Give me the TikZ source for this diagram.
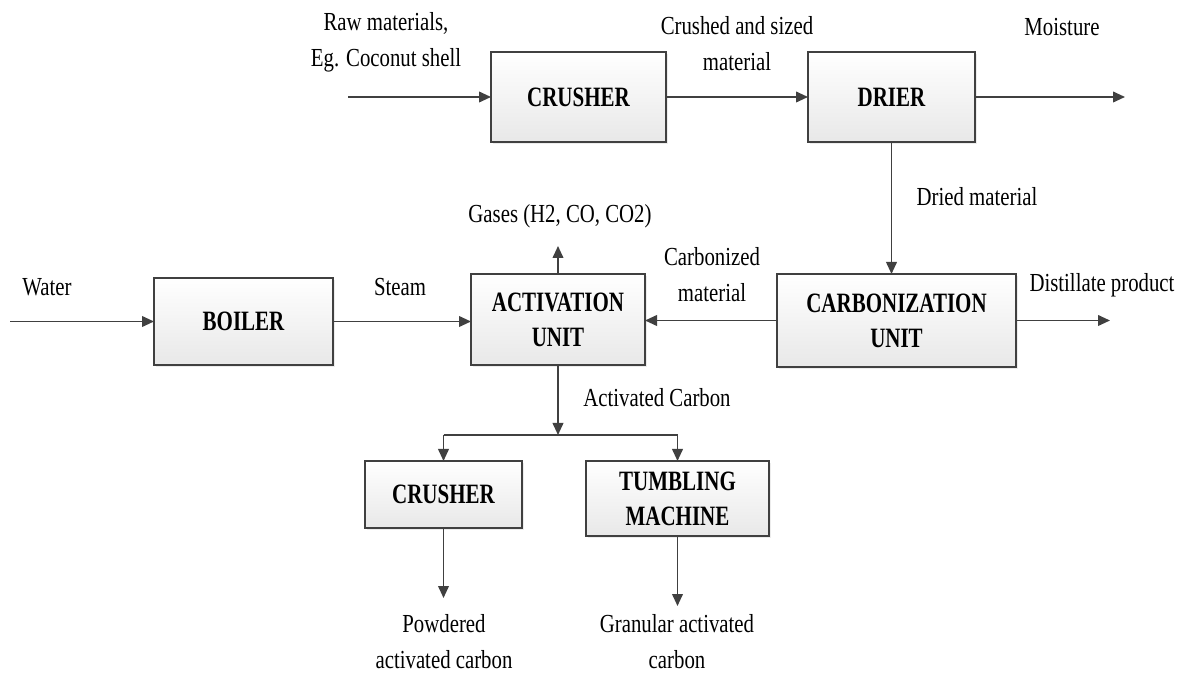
\documentclass[tikz,border=0pt]{standalone}
\usepackage{fontspec}
\setmainfont{Liberation Serif}[FakeStretch=0.8]
\newfontfamily\boxfont{Liberation Serif}[FakeStretch=0.75]
\usetikzlibrary{arrows.meta,shadows}
\definecolor{linec}{HTML}{404040}
\tikzset{
  box/.style={draw=linec, line width=1.3pt, top color=white, bottom color=black!9,
    inner sep=0pt, outer sep=0pt, align=center,
    font=\boxfont\bfseries\fontsize{21pt}{26.25pt}\selectfont,
    drop shadow={opacity=0.15, shadow xshift=1.8pt, shadow yshift=-1.8pt}},
  lbl/.style={inner sep=0pt, align=center, font=\fontsize{19.5pt}{27pt}\selectfont},
  flow/.style={draw=linec, line width=1.3pt, -{Triangle[length=9pt,width=8pt]}},
  plain/.style={draw=linec, line width=1.3pt}
}
\begin{document}
\begin{tikzpicture}[x=0.75pt,y=-0.75pt]
\path[use as bounding box, fill=white] (0,0) rectangle (1189,673);
% boxes
\node[box, minimum width=131.25pt, minimum height=67.5pt] (crusherA) at (578.5,97) {CRUSHER};
\node[box, minimum width=125.25pt, minimum height=67.5pt] (drier) at (891.5,97) {DRIER};
\node[box, minimum width=134.25pt, minimum height=65.25pt] (boiler) at (243.5,321.5) {BOILER};
\node[box, minimum width=130.5pt, minimum height=68.25pt] (activ) at (558,319.5) {ACTIVATION\\UNIT};
\node[box, minimum width=179.25pt, minimum height=69.75pt] (carbon) at (896.5,320.5) {CARBONIZATION\\UNIT};
\node[box, minimum width=117.75pt, minimum height=50.25pt] (crusherB) at (443.5,494.5) {CRUSHER};
\node[box, minimum width=137.25pt, minimum height=56.25pt] (tumble) at (677.5,498.5) {TUMBLING\\MACHINE};
% labels
\node[lbl] (raw) at (386,42.5) {Raw materials,\\Eg. Coconut shell};
\node[lbl] (crushed) at (737,43.5) {Crushed and sized\\material};
\node[lbl] (moist) at (1062,27) {Moisture};
\node[lbl] (dried) at (977,197) {Dried material};
\node[lbl] (gases) at (560,216) {Gases (H2, CO, CO2)};
\node[lbl] (carbd) at (712,274.5) {Carbonized\\material};
\node[lbl] (steam) at (400,287) {Steam};
\node[lbl] (water) at (47,287) {Water};
\node[lbl] (distil) at (1102,285) {Distillate product};
\node[lbl] (actc) at (657,398) {Activated Carbon};
\node[lbl] (powd) at (444,641.5) {Powdered\\activated carbon};
\node[lbl] (gran) at (677,642) {Granular activated\\carbon};
% free ends
\coordinate (rawin) at (348,97);
\coordinate (moistout) at (1125,97);
\coordinate (waterin) at (10,321.5);
\coordinate (distout) at (1110,320.5);
\coordinate (gasout) at (558,246);
\coordinate (split) at (558,435);
\coordinate (splitL) at (443.5,435);
\coordinate (splitR) at (677.5,435);
\coordinate (powdout) at (443.5,598);
\coordinate (granout) at (677.5,606);
% connectors
\draw[flow] (rawin) -- (crusherA.west |- rawin);
\draw[flow] (crusherA.east) -- (drier.west);
\draw[flow] (drier.east) -- (moistout);
\draw[flow] (drier.south) -- (drier.south |- carbon.north);
\draw[flow] (waterin) -- (boiler.west);
\draw[flow] (boiler.east) -- (activ.west |- boiler.east);
\draw[flow] (carbon.west) -- (activ.east |- carbon.west);
\draw[flow] (carbon.east) -- (distout);
\draw[flow] (activ.north) -- (gasout);
\draw[flow] (activ.south) -- (split);
\draw[plain] (splitL) -- (splitR);
\draw[flow] (splitL) -- (crusherB.north);
\draw[flow] (splitR) -- (tumble.north);
\draw[flow] (crusherB.south) -- (powdout);
\draw[flow] (tumble.south) -- (granout);
\end{tikzpicture}
\end{document}
